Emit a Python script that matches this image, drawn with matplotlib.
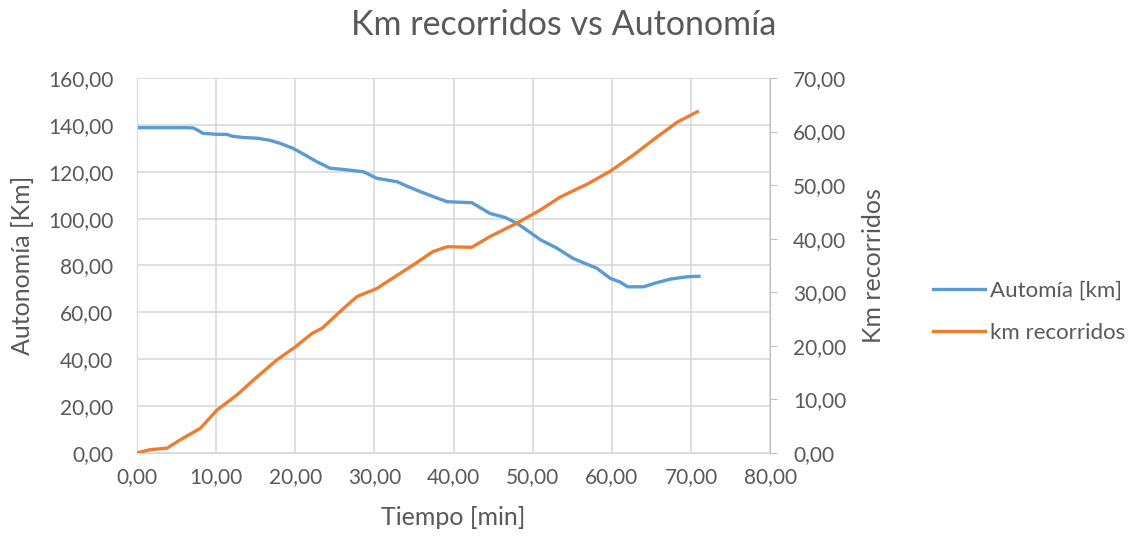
import matplotlib.pyplot as plt
from matplotlib.ticker import FuncFormatter, MultipleLocator

plt.rcParams['font.family'] = ['Lato', 'DejaVu Sans']

# Autonomía (eje izquierdo)
t_auto = [0, 2, 4, 6, 7.1, 7.8, 8.3, 10, 11.4, 12, 13.4, 15.2, 16.8, 18, 19.7,
          21, 22.7, 24.4, 26, 28.6, 30.3, 32.9, 34, 35.8, 37.5, 39.2, 42.3,
          44.6, 46.5, 48, 49.5, 51, 53, 55.1, 58.1, 59.8, 61, 62, 64, 65.5,
          67.4, 69.5, 71]
autonomia = [138.8, 138.8, 138.8, 138.8, 138.7, 137.5, 136.4, 136, 135.9,
             135.2, 134.6, 134.3, 133.4, 132.2, 130, 127.6, 124.3, 121.5, 121,
             120, 117.2, 115.7, 114, 111.5, 109.3, 107.2, 106.8, 102.2, 100.5,
             98, 94.5, 90.9, 87.5, 83, 78.8, 74.5, 73, 70.9, 70.9, 72.5, 74.2,
             75.2, 75.4]

# Km recorridos (eje derecho)
t_km = [0, 1.6, 3.8, 5.4, 8, 10.1, 12.6, 14.7, 17.7, 20, 22.1, 23.4, 26.1,
        27.8, 30.3, 32.9, 34.9, 37.4, 39.2, 42.3, 44.6, 48, 51, 53.5, 56.9,
        59.8, 62.7, 65.7, 68.3, 70.8]
km_recorridos = [0, 0.6, 0.9, 2.4, 4.6, 8.0, 10.8, 13.6, 17.4, 19.8, 22.3,
                 23.3, 27, 29.2, 30.7, 33.2, 35.1, 37.6, 38.5, 38.4, 40.4,
                 42.9, 45.4, 47.8, 50.2, 52.6, 55.6, 59, 61.8, 63.7]

txt = '#595959'
grid_c = '#d9d9d9'
fmt = FuncFormatter(lambda v, p: f"{v:.2f}".replace('.', ','))

fig = plt.figure(figsize=(11.36, 5.39), dpi=100)
ax = fig.add_axes([0.1206, 0.1596, 0.5574, 0.6957])
ax2 = ax.twinx()

l1, = ax.plot(t_auto, autonomia, color='#5B9BD5', lw=2.4, label='Automía [km]')
l2, = ax2.plot(t_km, km_recorridos, color='#ED7D31', lw=2.4, label='km recorridos')

ax.set_xlim(0, 80)
ax.set_ylim(0, 160)
ax2.set_ylim(0, 70)
ax.xaxis.set_major_locator(MultipleLocator(10))
ax.yaxis.set_major_locator(MultipleLocator(20))
ax2.yaxis.set_major_locator(MultipleLocator(10))
for a in (ax.xaxis, ax.yaxis, ax2.yaxis):
    a.set_major_formatter(fmt)

ax.grid(True, color=grid_c, lw=1.2)
ax.set_axisbelow(True)
for s in ('top', 'right'):
    ax.spines[s].set_visible(False)
for s in ('top', 'left', 'bottom'):
    ax2.spines[s].set_visible(False)
ax.spines['left'].set_color(grid_c)
ax.spines['bottom'].set_color(grid_c)
ax2.spines['right'].set_color('#bfbfbf')

ax.tick_params(axis='y', length=0, labelsize=15, colors=txt, pad=17)
ax.tick_params(axis='x', length=0, labelsize=15, colors=txt, pad=10)
ax2.tick_params(axis='y', length=5, labelsize=15, colors=txt, pad=11.5)
ax2.tick_params(axis='y', color='#bfbfbf')

ax.set_xlabel('Tiempo [min]', fontsize=18, color=txt, labelpad=14)
ax.set_ylabel('Autonomía [Km]', fontsize=18, color=txt, labelpad=10)
ax2.set_ylabel('Km recorridos', fontsize=18, color=txt, labelpad=11)

fig.text(0.496, 0.954, 'Km recorridos vs Autonomía', ha='center', va='center',
         fontsize=24.5, color=txt)

fig.legend(handles=[l1, l2], loc='center left', bbox_to_anchor=(0.8037, 0.422),
           frameon=False, fontsize=16, handlelength=2.35, handletextpad=0.23,
           labelspacing=1.0, labelcolor=txt)

fig.savefig('out.png', dpi=100)
